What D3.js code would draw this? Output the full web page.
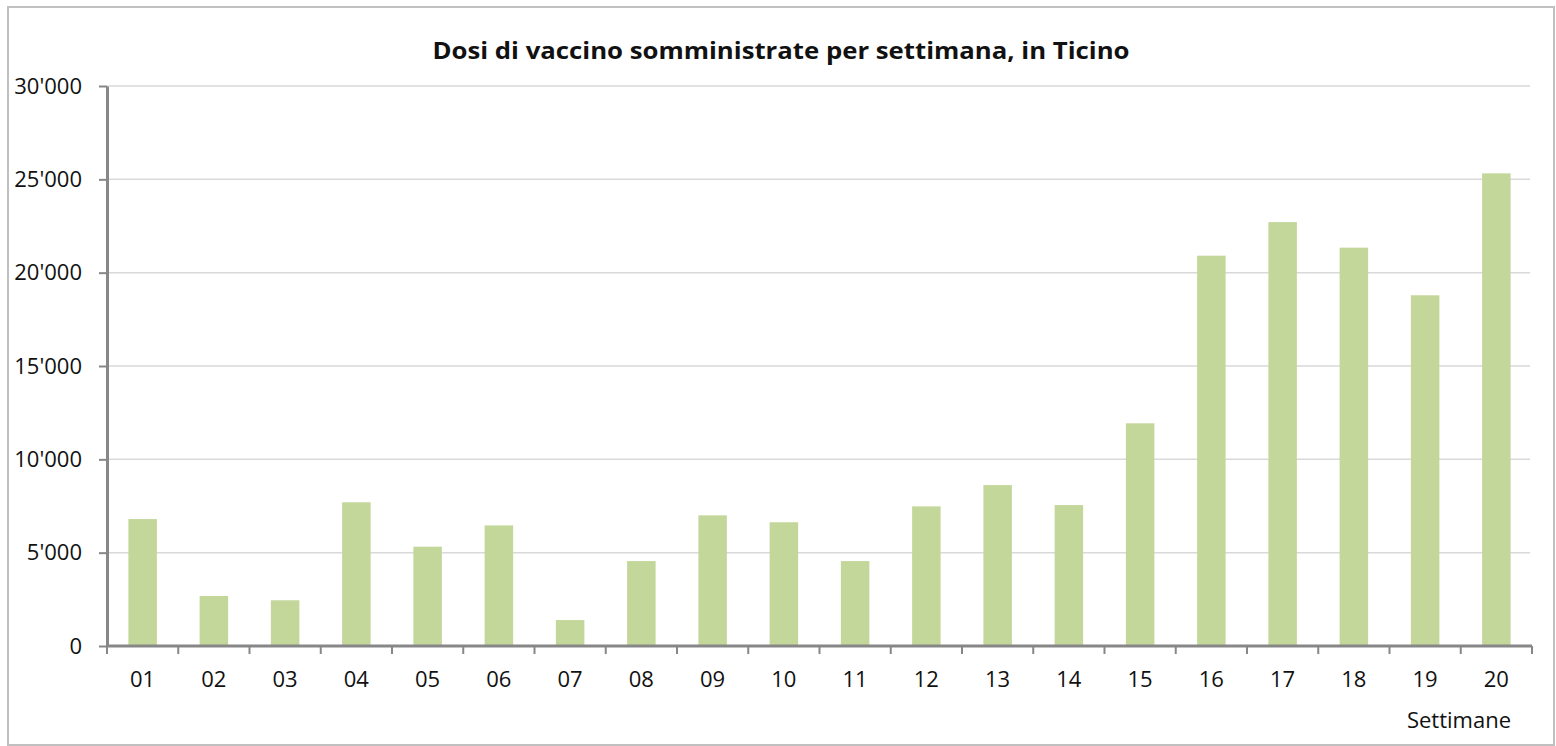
<!DOCTYPE html>
<html>
<head>
<meta charset="utf-8">
<script src="https://cdn.jsdelivr.net/npm/d3@7"></script>
<style>
  body { margin: 0; background: #fff; }
  svg { display: block; }
  text { font-family: "Open Sans", "Liberation Sans", sans-serif; fill: #111; }
</style>
</head>
<body>
<div id="chart"></div>
<script>
// weeks and doses
var weeks = ['01','02','03','04','05','06','07','08','09','10',
             '11','12','13','14','15','16','17','18','19','20']
var doses = [6800, 2680, 2450, 7700, 5320, 6460, 1390, 4550, 7000, 6630,
             4550, 7480, 8620, 7550, 11930, 20910, 22710, 21340, 18790, 25320]
var yTicks = [0, 5000, 10000, 15000, 20000, 25000, 30000]
var title = 'Dosi di vaccino somministrate per settimana, in Ticino'
var xTitle = 'Settimane'

var W = 1556, H = 746
var m = {left: 107, right: 24, top: 86, bottom: 100}

var svg = d3.select('#chart').append('svg')
  .attr('width', W).attr('height', H)

// outer frame
svg.append('rect')
  .attr('x', 8).attr('y', 7)
  .attr('width', W - 10).attr('height', H - 8)
  .attr('fill', 'none').attr('stroke', '#c0c0c0').attr('stroke-width', 2)

var x = d3.scaleBand().domain(weeks)
  .range([m.left, W - m.right]).paddingInner(0.6).paddingOuter(0.3)
var y = d3.scaleLinear().domain([0, 30000]).range([H - m.bottom, m.top])

var fmt = function(d){
  return d3.format(',')(d).replace(/,/g, "'")
}

// gridlines
svg.append('g').selectAll('line').data(yTicks.slice(1)).enter()
  .append('line')
  .attr('x1', m.left).attr('x2', W - m.right - 2)
  .attr('y1', function(d){ return y(d) }).attr('y2', function(d){ return y(d) })
  .attr('stroke', '#d9d9d9').attr('stroke-width', 1.5)

// bars
svg.append('g').selectAll('rect').data(doses).enter()
  .append('rect')
  .attr('x', function(d, i){ return x(weeks[i]) })
  .attr('width', x.bandwidth())
  .attr('y', function(d){ return y(d) })
  .attr('height', function(d){ return y(0) - y(d) })
  .attr('fill', '#c4d79b')

// y axis
var yAxis = svg.append('g')
  .attr('transform', 'translate(' + m.left + ',0)')
  .call(d3.axisLeft(y).tickValues(yTicks).tickFormat(fmt).tickSizeInner(8).tickSizeOuter(0).tickPadding(17))
yAxis.select('.domain').attr('stroke', '#878787').attr('stroke-width', 3)
yAxis.selectAll('.tick line').attr('stroke', '#878787').attr('stroke-width', 2)
yAxis.selectAll('.tick text').style('font-size', '22px').attr('fill', '#111')

// x axis, ticks on band boundaries
var xAxisG = svg.append('g')
  .attr('transform', 'translate(0,' + y(0) + ')')
xAxisG.append('line')
  .attr('x1', m.left).attr('x2', W - m.right)
  .attr('stroke', '#878787').attr('stroke-width', 3)
var bounds = d3.range(weeks.length + 1).map(function(i){ return m.left + i * (W - m.right - m.left) / weeks.length })
xAxisG.selectAll('.xt').data(bounds).enter()
  .append('line').attr('class', 'xt')
  .attr('x1', function(d){ return d }).attr('x2', function(d){ return d })
  .attr('y1', 0).attr('y2', 8)
  .attr('stroke', '#878787').attr('stroke-width', 2)
xAxisG.selectAll('.xl').data(weeks).enter()
  .append('text').attr('class', 'xl')
  .attr('x', function(d){ return x(d) + x.bandwidth() / 2 })
  .attr('y', 41)
  .attr('text-anchor', 'middle')
  .style('font-size', '22px')
  .text(function(d){ return d })

// titles
svg.append('text')
  .attr('x', 781).attr('y', 59)
  .attr('text-anchor', 'middle')
  .attr('textLength', 697).attr('lengthAdjust', 'spacingAndGlyphs')
  .style('font-size', '24px').style('font-weight', 'bold')
  .text(title)

svg.append('text')
  .attr('x', 1511).attr('y', 728)
  .attr('text-anchor', 'end')
  .style('font-size', '22px')
  .text(xTitle)
</script>
</body>
</html>
